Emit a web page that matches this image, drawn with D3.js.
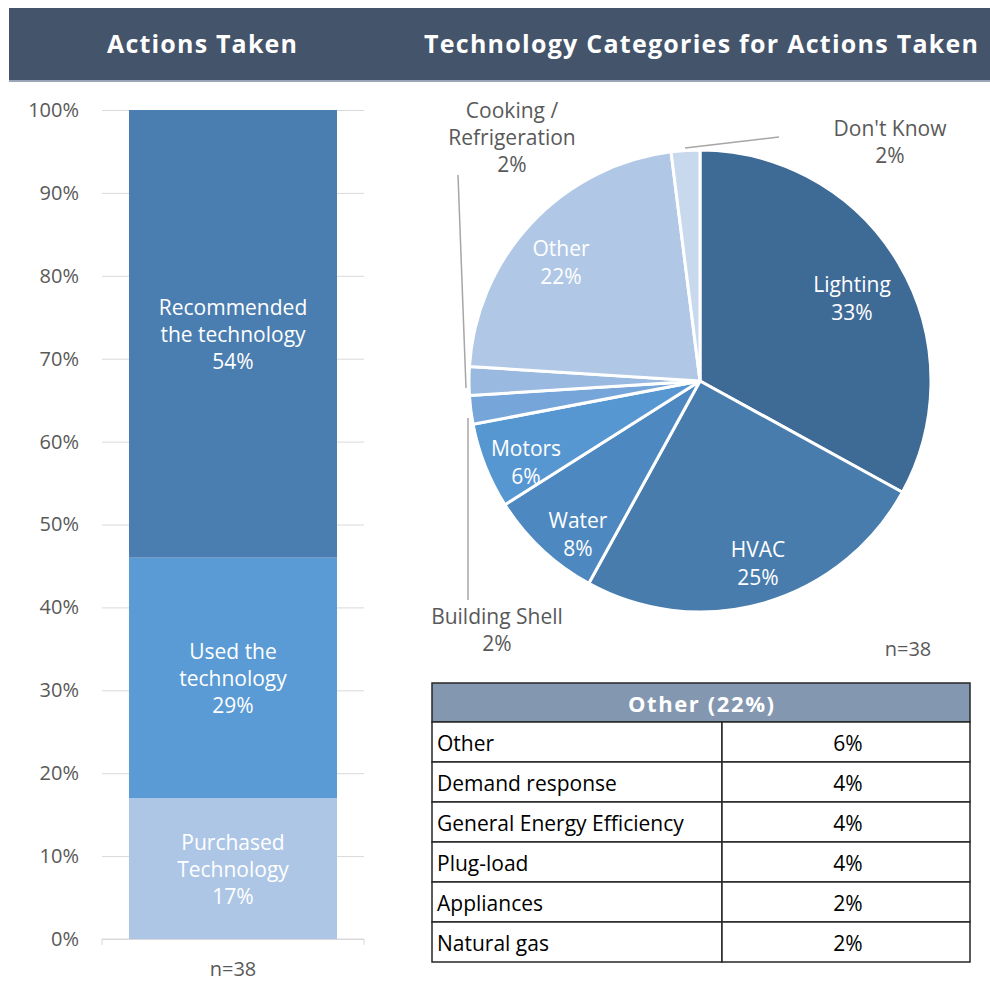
<!DOCTYPE html>
<html>
<head>
<meta charset="utf-8">
<script src="https://cdn.jsdelivr.net/npm/d3@7"></script>
<style>
  body { margin: 0; background: #fff; }
  text { font-family: "Open Sans", "Liberation Sans", sans-serif; }
</style>
</head>
<body>
<div id="chart"></div>
<script>
var w = 990;
var h = 982;

// bar data (stacked, bottom to top)
var barNames = ["Purchased\nTechnology", "Used the\ntechnology", "Recommended\nthe technology"];
var barValues = [17, 29, 54];
var barColors = ["#adc6e6", "#5a9ad5", "#4a7eb0"];
var yTicks = [0, 10, 20, 30, 40, 50, 60, 70, 80, 90, 100];

// pie data (clockwise from 12 o'clock)
var pieNames = ["Lighting", "HVAC", "Water", "Motors", "Building Shell", "Cooking /\nRefrigeration", "Other", "Don't Know"];
var pieValues = [33, 25, 8, 6, 2, 2, 22, 2];
var pieColors = ["#3e6a96", "#477cad", "#4d88c0", "#5797d1", "#75a5d9", "#99b9e1", "#b0c8e6", "#c8d9ee"];

// table data
var otherNames = ["Other", "Demand response", "General Energy Efficiency", "Plug-load", "Appliances", "Natural gas"];
var otherValues = [6, 4, 4, 4, 2, 2];

var fs = "21px";

var svg = d3.select("#chart")
  .append("svg")
  .attr("width", w)
  .attr("height", h);

// header band
svg.append("rect")
  .attr("x", 9).attr("y", 8)
  .attr("width", w - 9).attr("height", 72)
  .attr("fill", "#44546a");
svg.append("rect")
  .attr("x", 9).attr("y", 80)
  .attr("width", w - 9).attr("height", 2)
  .attr("fill", "#9aa6b8");

svg.append("text")
  .attr("x", 202).attr("y", 53)
  .attr("text-anchor", "middle")
  .attr("fill", "#fff")
  .style("font-weight", "bold")
  .style("font-size", "25px")
  .attr("textLength", 190)
  .text("Actions Taken");
svg.append("text")
  .attr("x", 701).attr("y", 53)
  .attr("text-anchor", "middle")
  .attr("fill", "#fff")
  .style("font-weight", "bold")
  .style("font-size", "25px")
  .attr("textLength", 554)
  .text("Technology Categories for Actions Taken");

// ---- stacked bar ----
var y = d3.scaleLinear()
  .domain([0, 100])
  .range([939, 110]);

var yAxis = d3.axisLeft(y)
  .tickValues(yTicks)
  .tickSize(-262)
  .tickFormat(function(d) { return d + "%"; });

var gy = svg.append("g")
  .attr("transform", "translate(102,0)")
  .call(yAxis);
gy.attr("font-family", null).attr("font-size", null);
gy.select(".domain").remove();
gy.selectAll(".tick line").attr("stroke", "#d9d9d9");
gy.selectAll(".tick text")
  .attr("x", -23)
  .attr("fill", "#595959")
  .style("font-size", "20px");

// baseline with end ticks
svg.append("path")
  .attr("d", "M102," + (y(0) + 6) + "V" + y(0) + "H364V" + (y(0) + 6))
  .attr("fill", "none")
  .attr("stroke", "#d9d9d9");

var stacked = [];
var acc = 0;
barValues.forEach(function(v, i) {
  stacked.push({ name: barNames[i], value: v, y0: acc, y1: acc + v, color: barColors[i] });
  acc += v;
});

svg.selectAll(".seg")
  .data(stacked)
  .enter()
  .append("rect")
  .attr("class", "seg")
  .attr("x", 129)
  .attr("width", 208)
  .attr("y", function(d) { return y(d.y1); })
  .attr("height", function(d) { return y(d.y0) - y(d.y1); })
  .attr("fill", function(d) { return d.color; });

var segLabels = svg.selectAll(".seglabel")
  .data(stacked)
  .enter()
  .append("text")
  .attr("class", "seglabel")
  .attr("text-anchor", "middle")
  .attr("fill", "#fff")
  .style("font-size", fs)
  .attr("transform", function(d) {
    return "translate(233," + (y((d.y0 + d.y1) / 2) - 19) + ")";
  });
segLabels.each(function(d) {
  var lines = d.name.split("\n").concat([d.value + "%"]);
  d3.select(this).selectAll("tspan")
    .data(lines)
    .enter()
    .append("tspan")
    .attr("x", 0)
    .attr("y", function(l, i) { return i * 27; })
    .text(function(l) { return l; });
});

svg.append("text")
  .attr("x", 233).attr("y", 976)
  .attr("text-anchor", "middle")
  .attr("fill", "#595959")
  .style("font-size", "20px")
  .text("n=38");

// ---- pie ----
var cx = 700, cy = 381, r = 231;
var pie = d3.pie().sort(null).value(function(d) { return d; });
var arcs = pie(pieValues);
var arc = d3.arc().innerRadius(0).outerRadius(r);

var gp = svg.append("g").attr("transform", "translate(" + cx + "," + cy + ")");
gp.selectAll("path")
  .data(arcs)
  .enter()
  .append("path")
  .attr("d", arc)
  .attr("fill", function(d, i) { return pieColors[i]; })
  .attr("stroke", "#fff")
  .attr("stroke-width", 3);

// inside labels
var inside = [
  { i: 0, x: 852, y: 284 },
  { i: 1, x: 758, y: 549 },
  { i: 2, x: 578, y: 520 },
  { i: 3, x: 526, y: 448 },
  { i: 6, x: 561, y: 248 }
];
inside.forEach(function(p) {
  var t = svg.append("text")
    .attr("text-anchor", "middle")
    .attr("fill", "#fff")
    .style("font-size", fs);
  t.append("tspan").attr("x", p.x).attr("y", p.y + 8).text(pieNames[p.i]);
  t.append("tspan").attr("x", p.x).attr("y", p.y + 36).text(pieValues[p.i] + "%");
});

// outside labels
var outside = [
  { i: 5, x: 512, y: 110 },
  { i: 7, x: 890, y: 128 },
  { i: 4, x: 497, y: 616 }
];
outside.forEach(function(p) {
  var lines = pieNames[p.i].split("\n").concat([pieValues[p.i] + "%"]);
  svg.append("text")
    .attr("text-anchor", "middle")
    .attr("fill", "#595959")
    .style("font-size", fs)
    .selectAll("tspan")
    .data(lines)
    .enter()
    .append("tspan")
    .attr("x", p.x)
    .attr("y", function(l, k) { return p.y + 8 + k * 27; })
    .text(function(l) { return l; });
});

// leader lines
var leaders = [
  [[685, 148], [779, 137]],
  [[466, 388], [458, 175]],
  [[468, 418], [468, 600]]
];
svg.selectAll(".leader")
  .data(leaders)
  .enter()
  .append("path")
  .attr("class", "leader")
  .attr("d", d3.line())
  .attr("fill", "none")
  .attr("stroke", "#a6a6a6")
  .attr("stroke-width", 1.5);

svg.append("text")
  .attr("x", 908).attr("y", 656)
  .attr("text-anchor", "middle")
  .attr("fill", "#595959")
  .style("font-size", "20px")
  .text("n=38");

// ---- table ----
var tx = 432, tw = 538, colX = 722, rowH = 40, headY = 683;
svg.append("rect")
  .attr("x", tx).attr("y", headY)
  .attr("width", tw).attr("height", 39)
  .attr("fill", "#8497b0")
  .attr("stroke", "#262626")
  .attr("stroke-width", 1.5);
svg.append("text")
  .attr("x", tx + tw / 2).attr("y", headY + 29)
  .attr("text-anchor", "middle")
  .attr("fill", "#fff")
  .style("font-weight", "bold")
  .style("font-size", "22px")
  .attr("textLength", 146)
  .text("Other (22%)");

var rows = svg.selectAll(".row")
  .data(otherNames)
  .enter()
  .append("g")
  .attr("class", "row")
  .attr("transform", function(d, i) { return "translate(0," + (headY + 39 + i * rowH) + ")"; });
rows.append("rect")
  .attr("x", tx).attr("width", colX - tx).attr("height", rowH)
  .attr("fill", "#fff").attr("stroke", "#262626").attr("stroke-width", 1.5);
rows.append("rect")
  .attr("x", colX).attr("width", tx + tw - colX).attr("height", rowH)
  .attr("fill", "#fff").attr("stroke", "#262626").attr("stroke-width", 1.5);
rows.append("text")
  .attr("x", tx + 5).attr("y", 29)
  .attr("fill", "#000")
  .style("font-size", fs)
  .text(function(d) { return d; });
rows.append("text")
  .attr("x", 848).attr("y", 29)
  .attr("text-anchor", "middle")
  .attr("fill", "#000")
  .style("font-size", fs)
  .text(function(d, i) { return otherValues[i] + "%"; });
</script>
</body>
</html>
